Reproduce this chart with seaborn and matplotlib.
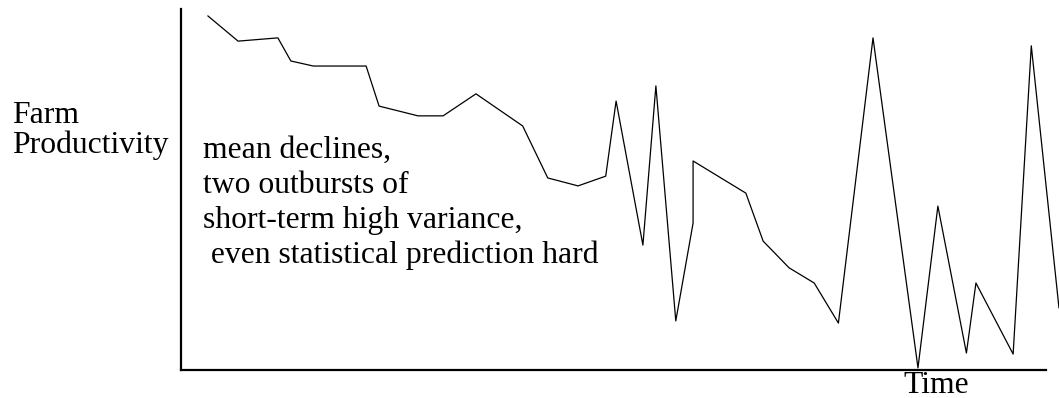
import matplotlib
matplotlib.use("Agg")
import matplotlib.pyplot as plt
import seaborn as sns
import pandas as pd

# Data (time 0..100 across the axis, productivity 0..100)
time = [3.1, 6.6, 11.2, 12.7, 15.3, 21.4, 22.9, 27.4, 30.3, 34.1, 39.5, 42.4,
        45.9, 49.1, 50.3, 53.4, 54.9, 57.2, 59.2, 59.2, 65.3, 67.3, 70.3, 73.2,
        76.0, 80.0, 85.2, 87.5, 90.8, 91.9, 96.2, 98.3, 101.5]
productivity = [98.1, 91.1, 92.0, 85.6, 84.2, 84.2, 73.1, 70.4, 70.4, 76.5, 67.6, 53.2,
                51.0, 53.7, 74.5, 34.6, 78.7, 13.6, 40.7, 57.9, 49.0, 35.7, 28.3, 24.1,
                13.0, 92.0, 0.6, 45.4, 4.7, 24.1, 4.4, 89.8, 17.2]
order = list(range(len(time)))

y_label_lines = ["Farm", "Productivity"]
note_lines = ["mean declines,", "two outbursts of", "short-term high variance,",
              " even statistical prediction hard"]
x_label = "Time"

df = pd.DataFrame({"order": order, "time": time, "productivity": productivity})

sns.set_style("white")
plt.rcParams["font.family"] = ["Liberation Serif", "DejaVu Serif"]
plt.rcParams["text.color"] = "black"

W, H = 1059, 398
fig = plt.figure(figsize=(W / 100, H / 100), dpi=100)
ax = fig.add_axes([181 / W, 1 - 370 / H, (1046 - 181) / W, (370 - 9) / H])

sns.lineplot(data=df, x="time", y="productivity", sort=False, estimator=None,
             color="black", linewidth=0.9, ax=ax, clip_on=False)

ax.set_xlim(0, 100)
ax.set_ylim(0, 100)
ax.set_xticks([])
ax.set_yticks([])
ax.set_xlabel("")
ax.set_ylabel("")
for s in ["top", "right"]:
    ax.spines[s].set_visible(False)
for s in ["left", "bottom"]:
    ax.spines[s].set_color("black")
    ax.spines[s].set_linewidth(1.6)

fs = 22.8
fig.text(12 / W, 1 - 123 / H, y_label_lines[0], fontsize=fs, va="baseline", ha="left", color="black")
fig.text(12 / W, 1 - 152.7 / H, y_label_lines[1], fontsize=fs, va="baseline", ha="left", color="black")
for i, line in enumerate(note_lines):
    fig.text(203 / W, 1 - (158 + 35 * i) / H, line, fontsize=fs, va="baseline", ha="left", color="black")
fig.text(903 / W, 1 - 393 / H, x_label, fontsize=fs, va="baseline", ha="left", color="black")

fig.savefig("out.png", dpi=100, facecolor="white")
